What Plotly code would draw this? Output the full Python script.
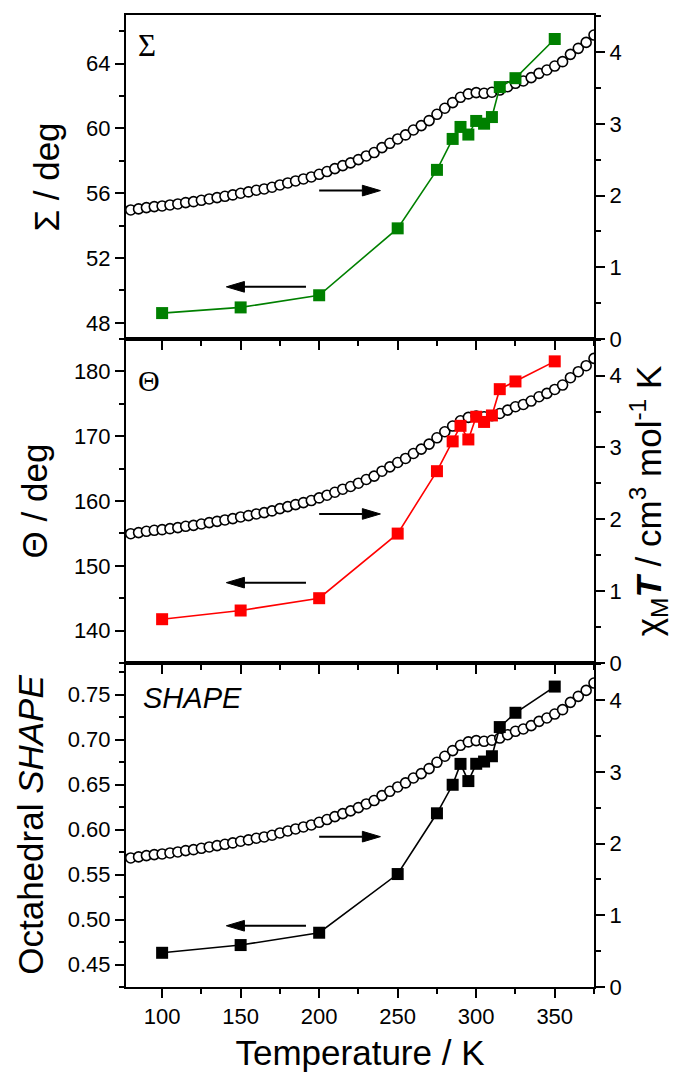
import plotly.graph_objects as go

# ---------------- data ----------------
T_struct = [100, 150, 200, 250, 275, 285, 290, 295, 300, 305, 310, 315, 325, 350]
sigma_deg = [48.6, 48.95, 49.7, 53.83, 57.44, 59.35, 60.09, 59.62, 60.46, 60.29, 60.7, 62.55, 63.1, 65.52]
theta_deg = [141.76, 143.1, 145.0, 154.97, 164.6, 169.2, 171.6, 169.5, 173.0, 172.2, 173.2, 177.26, 178.45, 181.55]
shape_oct = [0.463, 0.4716, 0.4853, 0.5505, 0.618, 0.6497, 0.6729, 0.6538, 0.673, 0.6755, 0.6814, 0.7138, 0.7297, 0.7588]

T_chi = [80, 85, 90, 95, 100, 105, 110, 115, 120, 125, 130, 135, 140, 145, 150, 155, 160, 165, 170, 175,
         180, 185, 190, 195, 200, 205, 210, 215, 220, 225, 230, 235, 240, 245, 250, 255, 260, 265, 270, 275,
         280, 285, 290, 295, 300, 305, 310, 315, 320, 325, 330, 335, 340, 345, 350, 355, 360, 365, 370, 375]
chiT = [1.80, 1.815, 1.833, 1.847, 1.856, 1.870, 1.884, 1.903, 1.916, 1.935, 1.954, 1.972, 1.991, 2.010, 2.033,
        2.052, 2.075, 2.093, 2.117, 2.149, 2.177, 2.205, 2.233, 2.261, 2.298, 2.336, 2.377, 2.419, 2.457, 2.503,
        2.554, 2.601, 2.670, 2.730, 2.791, 2.847, 2.916, 2.977, 3.047, 3.135, 3.219, 3.298, 3.372, 3.419, 3.437,
        3.428, 3.442, 3.473, 3.520, 3.567, 3.599, 3.646, 3.706, 3.753, 3.808, 3.869, 3.971, 4.055, 4.138, 4.240]

x_ticks = [100, 150, 200, 250, 300, 350]

FONT = "Arial, Liberation Sans, sans-serif"
TICKFONT = dict(family=FONT, size=22, color="black")
TITLEFONT = dict(family=FONT, size=35, color="black")

fig = go.Figure()

# panels: (x axis, right y (chiT), left y (structural), values, colour)
panels = [
    ("x", "y", "y2", shape_oct, "#000000"),
    ("x2", "y3", "y4", theta_deg, "#ff0000"),
    ("x3", "y5", "y6", sigma_deg, "#008000"),
]

for xa, yr, yl, vals, col in panels:
    fig.add_trace(go.Scatter(
        x=T_chi, y=chiT, xaxis=xa, yaxis=yr, mode="markers", showlegend=False,
        marker=dict(symbol="circle", size=10, color="white", line=dict(color="black", width=1.6)),
    ))
    fig.add_trace(go.Scatter(
        x=T_struct, y=vals, xaxis=xa, yaxis=yl, mode="lines+markers", showlegend=False,
        line=dict(color=col, width=1.6),
        marker=dict(symbol="square", size=12, color=col),
    ))

common = dict(
    showline=True, linewidth=2, linecolor="black", ticks="outside", ticklen=9, tickwidth=2,
    tickcolor="black", tickfont=TICKFONT, showgrid=False, zeroline=False,
)
minor = lambda d: dict(ticks="outside", ticklen=5, tickwidth=2, tickcolor="black", dtick=d, showgrid=False)

doms = [[0, 1 / 3], [1 / 3, 2 / 3], [2 / 3, 1]]

layout = dict(
    width=680, height=1079,
    margin=dict(l=126, r=86, t=15, b=92),
    paper_bgcolor="white", plot_bgcolor="white",
    xaxis=dict(**common, range=[77, 375], tickvals=x_ticks, minor=minor(25), mirror=True, anchor="y",
               title=dict(text="Temperature / K", font=TITLEFONT, standoff=12)),
    xaxis2=dict(**common, range=[77, 375], tickvals=x_ticks, minor=minor(25), mirror=True, anchor="y3",
                showticklabels=False, matches="x"),
    xaxis3=dict(**common, range=[77, 375], tickvals=x_ticks, minor=minor(25), mirror=True, anchor="y5",
                showticklabels=False, matches="x"),
    # bottom panel
    yaxis=dict(**common, domain=doms[0], range=[0, 4.52], dtick=1, tick0=0, minor=minor(0.5), side="right", anchor="x"),
    yaxis2=dict(**common, range=[0.425, 0.785], dtick=0.05, tick0=0, tickformat=".2f", minor=minor(0.025),
                side="left", overlaying="y", anchor="x",
                title=dict(text="Octahedral <i>SHAPE</i>", font=TITLEFONT, standoff=14)),
    # middle panel
    yaxis3=dict(**common, domain=doms[1], range=[0, 4.51], dtick=1, tick0=0, minor=minor(0.5), side="right", anchor="x2",
                title=dict(text="χ<sub>M</sub><b><i>T</i></b> / cm<sup>3</sup> mol<sup>-1</sup> K", font=TITLEFONT, standoff=16)),
    yaxis4=dict(**common, range=[135, 185], dtick=10, tick0=0, minor=minor(5),
                side="left", overlaying="y3", anchor="x2",
                title=dict(text="Θ / deg", font=TITLEFONT, standoff=16)),
    # top panel
    yaxis5=dict(**common, domain=doms[2], range=[0, 4.52], dtick=1, tick0=0, minor=minor(0.5), side="right", anchor="x3"),
    yaxis6=dict(**common, range=[47, 67], dtick=4, tick0=0, minor=minor(2),
                side="left", overlaying="y5", anchor="x3",
                title=dict(text="Σ / deg", font=TITLEFONT, standoff=16)),
)
fig.update_layout(**layout)


def add_arrow(xref, yref, t0, t1, yd, head_len=11.5, half_h=0.0165):
    d = 1 if t1 > t0 else -1
    base = t1 - d * head_len
    fig.add_shape(type="line", xref=xref, yref=yref, x0=t0, x1=base, y0=yd, y1=yd,
                  line=dict(color="black", width=2))
    fig.add_shape(type="path", xref=xref, yref=yref,
                  path=f"M {t1} {yd} L {base} {yd + half_h} L {base} {yd - half_h} Z",
                  fillcolor="black", line=dict(color="black", width=1))


# arrows (right: chiT axis, left: structural axis)
for xa, yr, y_right, y_left in [("x3", "y5 domain", 0.458, 0.161),
                                 ("x2", "y3 domain", 0.460, 0.248),
                                 ("x", "y domain", 0.464, 0.189)]:
    add_arrow(xa, yr, 200, 239, y_right)
    add_arrow(xa, yr, 191.6, 140.9, y_left)

# panel labels
fig.add_annotation(text="Σ", xref="x3 domain", yref="y5 domain", x=0.044, y=0.907, showarrow=False,
                   xanchor="center", yanchor="middle",
                   font=dict(family="Liberation Serif, Times New Roman, serif", size=31, color="black"))
fig.add_annotation(text="Θ", xref="x2 domain", yref="y3 domain", x=0.05, y=0.871, showarrow=False,
                   xanchor="center", yanchor="middle",
                   font=dict(family="Liberation Serif, Times New Roman, serif", size=30, color="black"))
fig.add_annotation(text="<i>SHAPE</i>", xref="x domain", yref="y domain", x=0.031, y=0.891, showarrow=False,
                   xanchor="left", yanchor="middle", font=dict(family=FONT, size=29, color="black"))

fig.write_html("out.html")
